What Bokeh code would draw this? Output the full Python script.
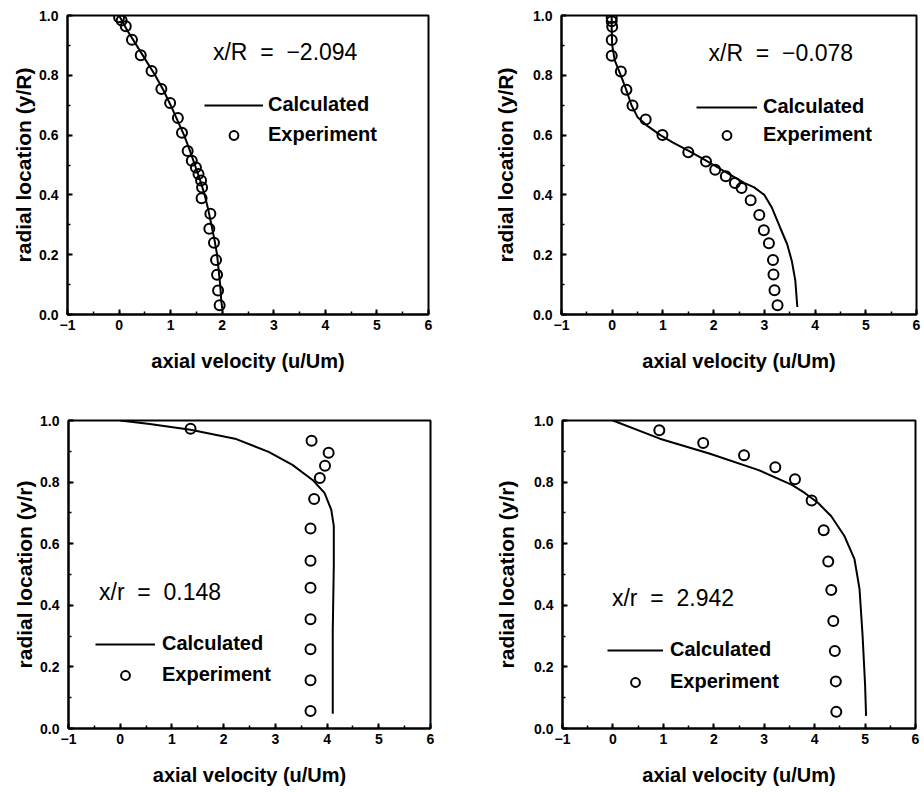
from bokeh.plotting import figure
from bokeh.layouts import column, row
from bokeh.models import (Label, Legend, LegendItem, SingleIntervalTicker,
                          PrintfTickFormatter, Range1d)
from bokeh.embed import file_html
from bokeh.resources import INLINE

FONT = "Liberation Sans"

# ---------------- data ----------------
# Panel 1: x/R = -2.094
p1_exp_u = [0.00, 0.05, 0.13, 0.25, 0.42, 0.63, 0.82, 0.99, 1.14, 1.22, 1.33, 1.41,
            1.49, 1.54, 1.59, 1.61, 1.60, 1.77, 1.75, 1.84, 1.88, 1.90, 1.92, 1.95]
p1_exp_y = [0.994, 0.983, 0.964, 0.919, 0.867, 0.814, 0.754, 0.707, 0.657, 0.608, 0.547, 0.514,
            0.492, 0.470, 0.448, 0.425, 0.389, 0.337, 0.287, 0.240, 0.182, 0.133, 0.080, 0.031]
p1_calc_u = [0.00, 0.16, 0.34, 0.52, 0.70, 0.86, 1.00, 1.13, 1.26, 1.37, 1.47, 1.57,
             1.66, 1.73, 1.79, 1.85, 1.90, 1.93, 1.96, 1.98, 2.00]
p1_calc_y = [1.00, 0.95, 0.90, 0.85, 0.80, 0.75, 0.70, 0.65, 0.60, 0.55, 0.50, 0.45,
             0.40, 0.35, 0.30, 0.25, 0.20, 0.15, 0.10, 0.05, 0.02]

# Panel 2: x/R = -0.078
p2_exp_u = [-0.01, -0.01, 0.00, -0.01, -0.01, 0.17, 0.28, 0.40, 0.66, 0.99, 1.50, 1.85,
            2.03, 2.24, 2.42, 2.55, 2.73, 2.90, 2.99, 3.09, 3.17, 3.18, 3.20, 3.26]
p2_exp_y = [0.992, 0.981, 0.962, 0.918, 0.865, 0.813, 0.752, 0.699, 0.652, 0.600, 0.543, 0.512,
            0.484, 0.462, 0.440, 0.423, 0.382, 0.333, 0.282, 0.238, 0.182, 0.134, 0.081, 0.031]
p2_calc_u = [-0.01, -0.01, 0.00, 0.05, 0.17, 0.28, 0.38, 0.50, 0.70, 0.95, 1.20, 1.50,
             1.80, 2.10, 2.35, 2.60, 2.80, 3.00, 3.15, 3.31, 3.45, 3.54, 3.61, 3.65]
p2_calc_y = [1.00, 0.95, 0.90, 0.85, 0.80, 0.75, 0.70, 0.66, 0.63, 0.60, 0.575, 0.548,
             0.52, 0.49, 0.465, 0.44, 0.425, 0.40, 0.357, 0.291, 0.235, 0.18, 0.114, 0.025]

# Panel 3: x/r = 0.148
p3_exp_u = [1.36, 3.70, 4.03, 3.96, 3.86, 3.75, 3.68, 3.68, 3.68, 3.68, 3.68, 3.68, 3.68]
p3_exp_y = [0.973, 0.934, 0.895, 0.853, 0.813, 0.745, 0.649, 0.545, 0.457, 0.355, 0.257, 0.157, 0.057]
p3_calc_u = [0.00, 0.57, 1.36, 2.22, 2.87, 3.33, 3.72, 3.95, 4.08, 4.13, 4.13, 4.11, 4.11]
p3_calc_y = [1.00, 0.989, 0.97, 0.941, 0.898, 0.856, 0.807, 0.765, 0.711, 0.658, 0.529, 0.316, 0.048]

# Panel 4: x/r = 2.942
p4_exp_u = [0.92, 1.79, 2.60, 3.22, 3.61, 3.94, 4.18, 4.27, 4.33, 4.37, 4.40, 4.42, 4.43]
p4_exp_y = [0.968, 0.927, 0.887, 0.848, 0.809, 0.740, 0.644, 0.542, 0.450, 0.349, 0.252, 0.153, 0.054]
p4_calc_u = [0.00, 0.93, 1.91, 2.89, 3.55, 3.81, 4.07, 4.33, 4.59, 4.79, 4.89, 4.95, 5.00, 5.02]
p4_calc_y = [1.00, 0.941, 0.893, 0.839, 0.791, 0.764, 0.732, 0.689, 0.625, 0.550, 0.453, 0.303, 0.143, 0.041]

x_label = "axial velocity (u/Um)"
SP = "\u00a0\u00a0"
panel_titles = ["x/R" + SP + "=" + SP + "\u22122.094", "x/R" + SP + "=" + SP + "\u22120.078",
                "x/r" + SP + "=" + SP + "0.148", "x/r" + SP + "=" + SP + "2.942"]
y_labels = ["radial location (y/R)", "radial location (y/R)",
            "radial location (y/r)", "radial location (y/r)"]
legend_labels = ["Calculated", "Experiment"]


def make_panel(width, height, borders, ylabel, ylabel_standoff,
               calc_u, calc_y, exp_u, exp_y, title, title_pos,
               leg_pos, glyph_w, leg_spacing, leg_standoff):
    bl, br, bt, bb = borders
    p = figure(width=width, height=height, x_range=Range1d(-1, 6), y_range=Range1d(0, 1),
               output_backend="svg", toolbar_location=None,
               min_border_left=bl, min_border_right=br, min_border_top=bt, min_border_bottom=bb,
               background_fill_color="white", border_fill_color="white")
    p.xgrid.visible = False
    p.ygrid.visible = False
    p.outline_line_color = "black"
    p.outline_line_width = 2
    p.outline_line_alpha = 1

    p.xaxis.ticker = SingleIntervalTicker(interval=1, num_minor_ticks=2)
    p.yaxis.ticker = SingleIntervalTicker(interval=0.2, num_minor_ticks=2)
    p.yaxis.formatter = PrintfTickFormatter(format="%.1f")
    for ax in (p.xaxis[0], p.yaxis[0]):
        ax.axis_line_width = 2
        ax.axis_line_color = "black"
        ax.major_tick_in = 5
        ax.major_tick_out = 0
        ax.minor_tick_in = 3
        ax.minor_tick_out = 0
        ax.major_tick_line_width = 2
        ax.minor_tick_line_width = 1.5
        ax.major_label_text_font = FONT
        ax.major_label_text_font_style = "bold"
        ax.major_label_text_font_size = "14px"
        ax.major_label_text_color = "black"
        ax.axis_label_text_font = FONT
        ax.axis_label_text_font_style = "bold"
        ax.axis_label_text_color = "black"
    p.xaxis.axis_label = x_label
    p.xaxis.axis_label_text_font_size = "20px"
    p.xaxis.major_label_standoff = 5
    p.xaxis.axis_label_standoff = 17
    p.yaxis.axis_label = ylabel
    p.yaxis.axis_label_text_font_size = "21px"
    p.yaxis.major_label_standoff = 9
    p.yaxis.axis_label_standoff = ylabel_standoff

    calc = p.line(calc_u, calc_y, line_color="black", line_width=2)
    exp = p.scatter(exp_u, exp_y, marker="circle", size=10, fill_alpha=0,
                    line_color="black", line_width=2)

    p.add_layout(Label(x=title_pos[0], y=title_pos[1], text=title, text_font=FONT,
                       text_font_size="23px", text_baseline="middle", text_align="left",
                       text_color="black"))

    legend = Legend(items=[LegendItem(label=legend_labels[0], renderers=[calc]),
                           LegendItem(label=legend_labels[1], renderers=[exp])],
                    location=leg_pos, padding=0, margin=0, border_line_color=None,
                    background_fill_alpha=0, glyph_width=glyph_w, glyph_height=22,
                    label_height=22, spacing=leg_spacing, label_standoff=leg_standoff,
                    label_text_font=FONT, label_text_font_style="bold",
                    label_text_font_size="20px", label_text_color="black")
    p.add_layout(legend)
    return p


p1 = make_panel(460, 392, (67, 32, 15, 75), y_labels[0], 1,
                p1_calc_u, p1_calc_y, p1_exp_u, p1_exp_y, panel_titles[0], (1.82, 0.878),
                (137, 168), 59, 7, 5)
p2 = make_panel(462, 392, (101, 6, 13, 78), y_labels[1], 13,
                p2_calc_u, p2_calc_y, p2_exp_u, p2_exp_y, panel_titles[1], (1.90, 0.876),
                (135, 168), 61, 5, 6)
p3 = make_panel(460, 398, (68, 30, 28, 58), y_labels[2], 1,
                p3_calc_u, p3_calc_y, p3_exp_u, p3_exp_y, panel_titles[2], (-0.41, 0.444),
                (27, 42), 60, 8, 7)
p4 = make_panel(462, 398, (102, 7, 25, 62), y_labels[3], 13,
                p4_calc_u, p4_calc_y, p4_exp_u, p4_exp_y, panel_titles[3], (-0.02, 0.423),
                (45, 35), 56, 9, 7)

layout = column(row(p1, p2), row(p3, p4))
open("out.html", "w").write(file_html(layout, INLINE))
